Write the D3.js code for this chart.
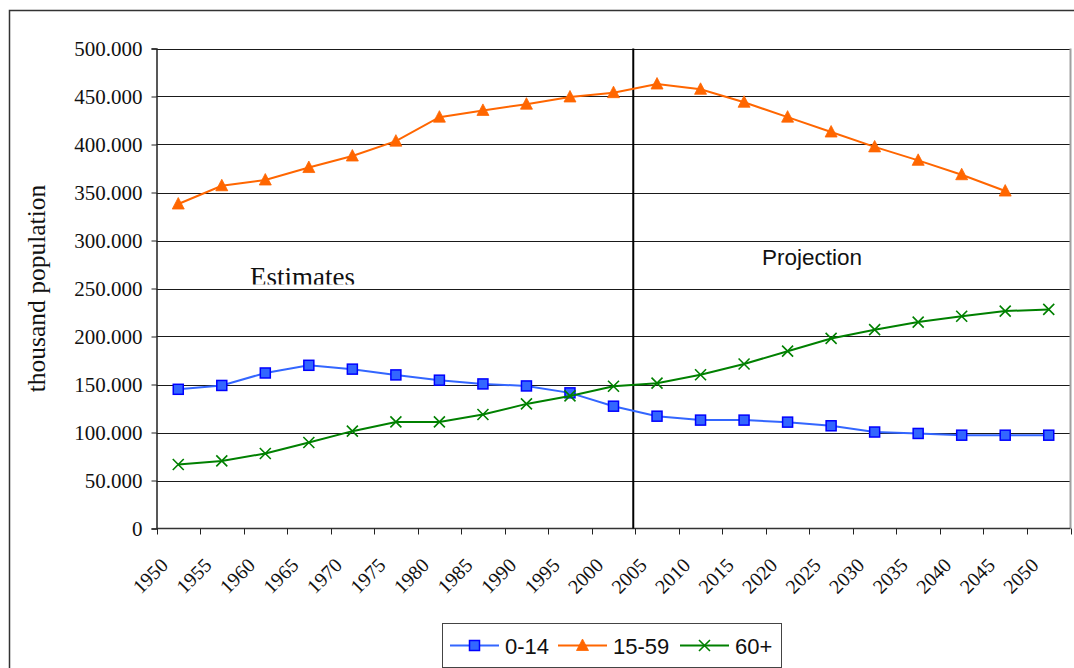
<!DOCTYPE html>
<html>
<head>
<meta charset="utf-8">
<script src="https://cdn.jsdelivr.net/npm/d3@7/dist/d3.min.js"></script>
<style>
  html, body { margin: 0; padding: 0; background: #fff; }
  svg { display: block; }
</style>
</head>
<body>
<svg id="chart" width="1074" height="668"></svg>
<script>
// Population by broad age group, estimates up to 2000 and projection from 2005
const years = ["1950","1955","1960","1965","1970","1975","1980","1985","1990","1995","2000",
               "2005","2010","2015","2020","2025","2030","2035","2040","2045","2050"];

const age0to14 = [145000, 149000, 162000, 170000, 166000, 160000, 154500, 150600, 148500, 141300, 127400,
                  117000, 112900, 112900, 110800, 107000, 100500, 99000, 97200, 97200, 97200];

const age15to59 = [338000, 357000, 363000, 376000, 388000, 403500, 428500, 435500, 442000, 449500, 454000,
                   463000, 457500, 444000, 428500, 413000, 397500, 383500, 368500, 351500, null];

const age60plus = [66700, 70400, 78100, 89600, 101400, 111000, 111000, 118700, 129800, 138100, 148200,
                   151400, 160200, 171400, 184700, 198000, 207100, 215000, 221100, 226500, 228200];

const seriesNames = ["0-14", "15-59", "60+"];
const yTicks = [0, 50000, 100000, 150000, 200000, 250000, 300000, 350000, 400000, 450000, 500000];
const projectionStart = "2005";

const serif = "'Liberation Serif', 'Times New Roman', serif";
const sans = "'Liberation Sans', Arial, sans-serif";

const svg = d3.select("#chart");

// Outer chart frame
svg.append("rect")
  .attr("x", 9.5).attr("y", 10.5)
  .attr("width", 1200).attr("height", 800)
  .attr("fill", "#fff").attr("stroke", "#333").attr("stroke-width", 1.5);

const plot = { left: 156.5, right: 1070.5, top: 48.5, bottom: 528.5 };

const x = d3.scaleBand().domain(years).range([plot.left, plot.right]).padding(0);
const y = d3.scaleLinear().domain([0, 500000]).range([plot.bottom, plot.top]);
const cx = d => x(d) + x.bandwidth() / 2;

const fmt = d3.formatLocale({ decimal: ",", thousands: ".", grouping: [3], currency: ["", ""] }).format(",");

// Gridlines
svg.append("g")
  .selectAll("line")
  .data(yTicks.filter(d => d > 0))
  .join("line")
  .attr("x1", plot.left).attr("x2", plot.right)
  .attr("y1", d => Math.round(y(d)) + 0.5).attr("y2", d => Math.round(y(d)) + 0.5)
  .attr("stroke", "#1a1a1a").attr("stroke-width", 1);

// Right edge of plot area
svg.append("line")
  .attr("x1", plot.right).attr("x2", plot.right)
  .attr("y1", plot.top).attr("y2", plot.bottom)
  .attr("stroke", "#a0a0a0").attr("stroke-width", 2);

// Y axis
const yAxis = svg.append("g")
  .attr("transform", `translate(${plot.left},0)`)
  .call(d3.axisLeft(y).tickValues(yTicks).tickSize(5).tickPadding(9).tickFormat(fmt))
  .attr("font-family", serif).attr("font-size", 21);
yAxis.select(".domain").attr("stroke", "#222").attr("stroke-width", 1.5);
yAxis.selectAll(".tick line").attr("stroke", "#222");
yAxis.selectAll("text").style("font-family", serif).style("font-size", "21px").attr("fill", "#111");

// X axis: ticks on category boundaries
const xg = svg.append("g");
xg.append("line")
  .attr("x1", plot.left).attr("x2", plot.right)
  .attr("y1", plot.bottom).attr("y2", plot.bottom)
  .attr("stroke", "#333").attr("stroke-width", 1.5);
const boundaries = years.map(d => x(d)).concat([x(years[years.length - 1]) + x.bandwidth()]);
xg.selectAll("line.tick")
  .data(boundaries)
  .join("line")
  .attr("class", "tick")
  .attr("x1", d => Math.round(d) + 0.5).attr("x2", d => Math.round(d) + 0.5)
  .attr("y1", plot.bottom).attr("y2", plot.bottom + 6)
  .attr("stroke", "#222");
xg.selectAll("text")
  .data(years)
  .join("text")
  .attr("transform", d => `translate(${cx(d) - 9},${plot.bottom + 38}) rotate(-45)`)
  .attr("text-anchor", "end")
  .style("font-family", serif).style("font-size", "20px").attr("fill", "#111")
  .text(d => d);

// Y axis title
svg.append("text")
  .attr("transform", `translate(45,${(plot.top + plot.bottom) / 2}) rotate(-90)`)
  .attr("text-anchor", "middle")
  .style("font-family", serif).style("font-size", "25.5px").attr("fill", "#111")
  .text("thousand population");

// Divider between estimates and projection
const divX = x(projectionStart) - 2;
svg.append("line")
  .attr("x1", divX).attr("x2", divX)
  .attr("y1", plot.top).attr("y2", plot.bottom)
  .attr("stroke", "#000").attr("stroke-width", 2);

// Section labels
svg.append("clipPath").attr("id", "estClip")
  .append("rect").attr("x", 200).attr("y", 240).attr("width", 300).attr("height", 44.5);
svg.append("text")
  .attr("clip-path", "url(#estClip)")
  .attr("x", 250).attr("y", 286)
  .style("font-family", serif).style("font-size", "27px").attr("fill", "#111")
  .text("Estimates");
svg.append("text")
  .attr("x", 762).attr("y", 265)
  .style("font-family", sans).style("font-size", "22.5px").attr("fill", "#111")
  .text("Projection");

// Series
const series = [
  { name: seriesNames[0], values: age0to14, color: "#3366ff", marker: "square" },
  { name: seriesNames[1], values: age15to59, color: "#ff6600", marker: "triangle" },
  { name: seriesNames[2], values: age60plus, color: "#008000", marker: "cross" }
];

function drawMarker(g, type, color) {
  if (type === "square") {
    g.append("rect").attr("x", -5).attr("y", -5).attr("width", 10).attr("height", 10)
      .attr("fill", "#3366ff").attr("stroke", "#0000ff").attr("stroke-width", 1.5);
  } else if (type === "triangle") {
    g.append("path").attr("d", "M0,-6.5 L6,5 L-6,5 Z").attr("fill", color).attr("stroke", color).attr("stroke-width", 0.8);
  } else {
    g.append("path").attr("d", "M-5.5,-5.5 L5.5,5.5 M-5.5,5.5 L5.5,-5.5")
      .attr("fill", "none").attr("stroke", color).attr("stroke-width", 1.6);
  }
}

const line = d3.line()
  .defined(d => d.v != null)
  .x(d => cx(d.year))
  .y(d => y(d.v));

series.forEach(s => {
  const pts = years.map((yr, i) => ({ year: yr, v: s.values[i] }));
  svg.append("path")
    .datum(pts)
    .attr("fill", "none").attr("stroke", s.color).attr("stroke-width", 2)
    .attr("d", line);
  svg.append("g").selectAll("g")
    .data(pts.filter(d => d.v != null))
    .join("g")
    .attr("transform", d => `translate(${cx(d.year)},${y(d.v)})`)
    .each(function () { drawMarker(d3.select(this), s.marker, s.color); });
});

// Legend
const lg = svg.append("g");
lg.append("rect").attr("x", 442.5).attr("y", 623.5).attr("width", 339).attr("height", 44)
  .attr("fill", "#fff").attr("stroke", "#444").attr("stroke-width", 1);
const legendPos = [450, 558, 680];
series.forEach((s, i) => {
  const g = lg.append("g").attr("transform", `translate(${legendPos[i]},645.5)`);
  g.append("line").attr("x1", 0).attr("x2", 49).attr("y1", 0).attr("y2", 0)
    .attr("stroke", s.color).attr("stroke-width", 2);
  const m = g.append("g").attr("transform", "translate(24.5,0)");
  drawMarker(m, s.marker, s.color);
  g.append("text").attr("x", 55).attr("y", 8)
    .style("font-family", sans).style("font-size", "22px").attr("fill", "#111")
    .text(s.name);
});
</script>
</body>
</html>
